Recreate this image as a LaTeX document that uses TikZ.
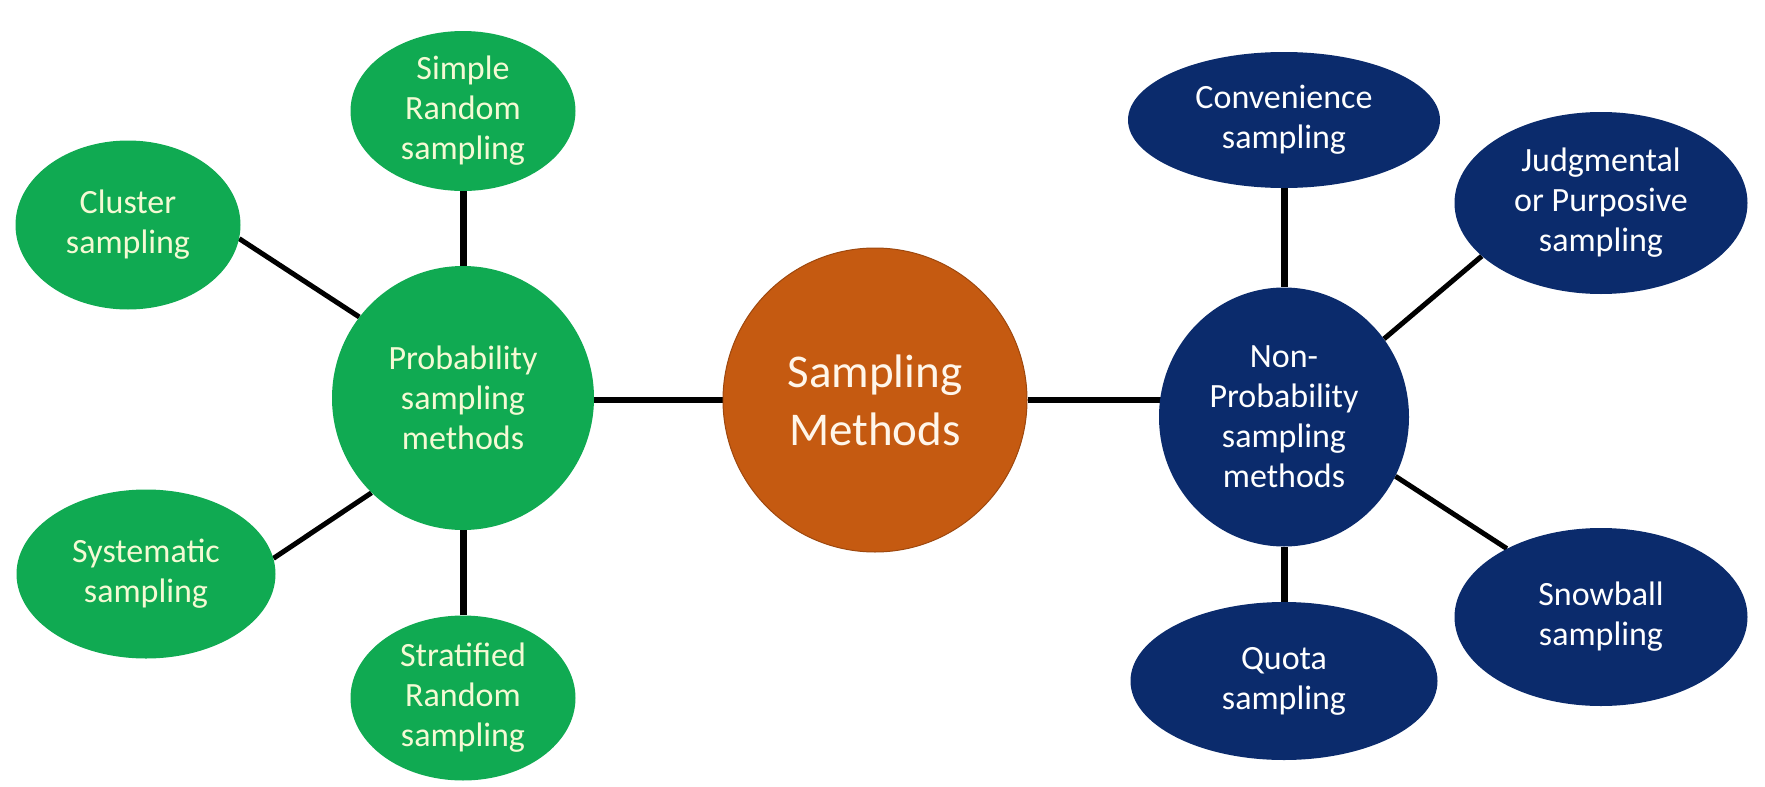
\documentclass[tikz,border=0pt]{standalone}
\usepackage{fontspec}
\setmainfont{Carlito}
\usetikzlibrary{shapes.geometric,backgrounds}
\definecolor{gfill}{HTML}{10AA52}
\definecolor{nfill}{HTML}{0B2B6C}
\definecolor{ofill}{HTML}{C55A11}
\definecolor{gtxt}{HTML}{F4FAD4}
\definecolor{otxt}{HTML}{FFF6EA}
\tikzset{
  gnode/.style={ellipse,fill=gfill,inner sep=0pt},
  nnode/.style={ellipse,fill=nfill,inner sep=0pt},
  onode/.style={ellipse,fill=ofill,draw=ofill!80!black,line width=1pt,inner sep=0pt},
  gtext/.style={text=gtxt,align=center,font=\fontsize{34pt}{40pt}\selectfont,inner sep=0pt},
  ntext/.style={text=white,align=center,font=\fontsize{34pt}{40pt}\selectfont,inner sep=0pt},
  otext/.style={text=otxt,align=center,font=\fontsize{47pt}{58pt}\selectfont,inner sep=0pt},
  vlink/.style={line width=7pt,black},
  hlink/.style={line width=5.5pt,black},
  dlink/.style={line width=5pt,black},
}
\begin{document}
\begin{tikzpicture}[x=1pt,y=-1pt]
\useasboundingbox (0,0) rectangle (1765,787);
% centre
\node[onode,minimum width=304pt,minimum height=304pt,label={[otext]center:Sampling\\Methods}] (center) at (875,400) {};
% probability side
\node[gnode,minimum width=262pt,minimum height=264pt,label={[gtext]center:Probability\\sampling\\methods}] (prob) at (463,398) {};
\node[gnode,minimum width=225pt,minimum height=160pt,label={[gtext]center:Simple\\Random\\sampling}] (simple) at (463,111) {};
\node[gnode,minimum width=225pt,minimum height=169pt,label={[gtext]center:Cluster\\sampling}] (cluster) at (128,225) {};
\node[gnode,minimum width=259pt,minimum height=169pt,label={[gtext]center:Systematic\\sampling}] (systematic) at (146,574) {};
\node[gnode,minimum width=225pt,minimum height=165pt,label={[gtext]center:Stratified\\Random\\sampling}] (stratified) at (463,698) {};
% non-probability side
\node[nnode,minimum width=250pt,minimum height=259pt,label={[ntext]center:Non-\\Probability\\sampling\\methods}] (nonprob) at (1284,417) {};
\node[nnode,minimum width=312pt,minimum height=136pt,label={[ntext]center:Convenience\\sampling}] (convenience) at (1284,120) {};
\node[nnode,minimum width=293pt,minimum height=182pt,label={[ntext]center:Judgmental\\or Purposive\\sampling}] (judgmental) at (1601,203) {};
\node[nnode,minimum width=293pt,minimum height=178pt,label={[ntext]center:Snowball\\sampling}] (snowball) at (1601,617) {};
\node[nnode,minimum width=307pt,minimum height=158pt,label={[ntext]center:Quota\\sampling}] (quota) at (1284,681) {};
\begin{pgfonlayer}{background}
\draw[hlink] (prob.center |- center) -- (center);
\draw[hlink] (center) -- (center -| nonprob);
\draw[vlink] (simple) -- (prob);
\draw[vlink] (stratified) -- (prob);
\draw[vlink] (convenience) -- (nonprob);
\draw[vlink] (quota) -- (nonprob);
\draw[dlink] (cluster.-7) -- (prob.142);
\draw[dlink] (systematic.7) -- (prob.226);
\draw[dlink] (judgmental.204) -- (nonprob.38);
\draw[dlink] (snowball.144) -- (nonprob.-28);
\end{pgfonlayer}
\end{tikzpicture}
\end{document}
